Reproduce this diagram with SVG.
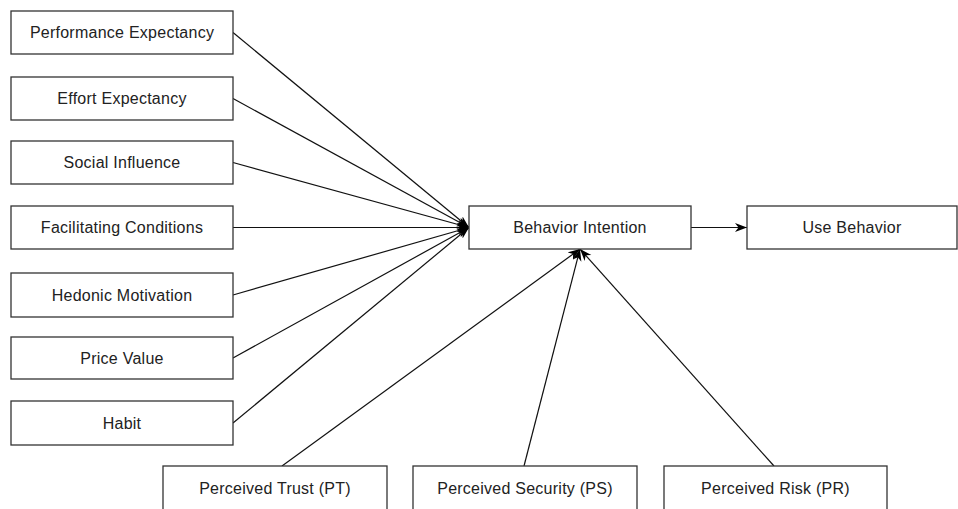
<svg xmlns="http://www.w3.org/2000/svg" width="958" height="509" viewBox="0 0 958 509">
<defs>
<style>
.box{fill:#fff;stroke:#333;stroke-width:1.3}
.lbl{font-family:"Liberation Sans",Arial,sans-serif;font-size:16px;letter-spacing:0.25px;fill:#222;text-anchor:middle}
.edge{stroke:#111;stroke-width:1.2;fill:none;marker-end:url(#arr)}
</style>
<marker id="arr" markerWidth="13" markerHeight="10" refX="12" refY="5" orient="auto" markerUnits="userSpaceOnUse">
<path d="M0,0.5 L12,5 L0,9.5 L3.5,5 Z" fill="#000"/>
</marker>
</defs>
<rect width="958" height="509" fill="#fff"/>
<g id="connectors">
<line class="edge" x1="233" y1="32.5" x2="469" y2="227.5"/>
<line class="edge" x1="233" y1="98.5" x2="469" y2="227.5"/>
<line class="edge" x1="233" y1="162.5" x2="469" y2="227.5"/>
<line class="edge" x1="233" y1="227.5" x2="469" y2="227.5"/>
<line class="edge" x1="233" y1="295" x2="469" y2="227.5"/>
<line class="edge" x1="233" y1="358" x2="469" y2="227.5"/>
<line class="edge" x1="233" y1="423" x2="469" y2="227.5"/>
<line class="edge" x1="282" y1="466" x2="580" y2="249"/>
<line class="edge" x1="524" y1="466" x2="580" y2="249"/>
<line class="edge" x1="774" y1="466" x2="580" y2="249"/>
<line class="edge" x1="691" y1="227.5" x2="747" y2="227.5"/>
</g>
<g id="performance-expectancy"><rect class="box" x="11" y="11" width="222" height="43"/><text class="lbl" x="122" y="38">Performance Expectancy</text></g>
<g id="effort-expectancy"><rect class="box" x="11" y="77" width="222" height="43"/><text class="lbl" x="122" y="104">Effort Expectancy</text></g>
<g id="social-influence"><rect class="box" x="11" y="141" width="222" height="43"/><text class="lbl" x="122" y="168">Social Influence</text></g>
<g id="facilitating-conditions"><rect class="box" x="11" y="206" width="222" height="43"/><text class="lbl" x="122" y="233">Facilitating Conditions</text></g>
<g id="hedonic-motivation"><rect class="box" x="11" y="273" width="222" height="44"/><text class="lbl" x="122" y="300.5">Hedonic Motivation</text></g>
<g id="price-value"><rect class="box" x="11" y="337" width="222" height="42"/><text class="lbl" x="122" y="363.5">Price Value</text></g>
<g id="habit"><rect class="box" x="11" y="401" width="222" height="44"/><text class="lbl" x="122" y="428.5">Habit</text></g>
<g id="behavior-intention"><rect class="box" x="469" y="206" width="222" height="43"/><text class="lbl" x="580" y="233">Behavior Intention</text></g>
<g id="use-behavior"><rect class="box" x="747" y="206" width="210" height="43"/><text class="lbl" x="852" y="233">Use Behavior</text></g>
<g id="perceived-trust"><rect class="box" x="163" y="466" width="224" height="46"/><text class="lbl" x="275" y="494">Perceived Trust (PT)</text></g>
<g id="perceived-security"><rect class="box" x="413" y="466" width="224" height="46"/><text class="lbl" x="525" y="494">Perceived Security (PS)</text></g>
<g id="perceived-risk"><rect class="box" x="664" y="466" width="223" height="46"/><text class="lbl" x="775.5" y="494">Perceived Risk (PR)</text></g>
</svg>
